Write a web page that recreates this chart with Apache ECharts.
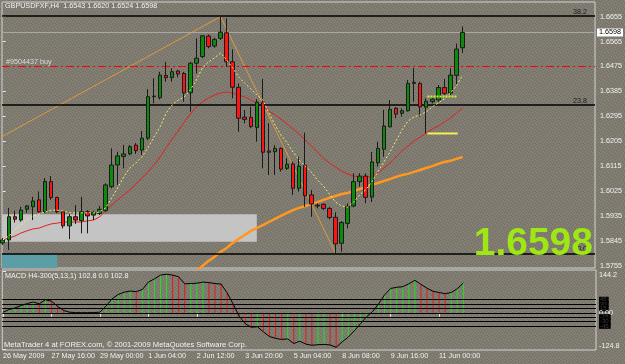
<!DOCTYPE html>
<html><head><meta charset="utf-8">
<script src="https://cdn.jsdelivr.net/npm/echarts@6/dist/echarts.min.js"></script>
<style>html,body{margin:0;padding:0;background:#7e7a6f;}#c{width:625px;height:364px;}</style>
</head><body><div id="c"></div>
<script>
// ---------------- DATA ----------------
const symbol = 'GBPUSDFXF,H4';
const opens = [1.5837,1.5848,1.5932,1.5920,1.5959,1.5968,1.5993,1.5950,1.6059,1.6002,
  1.5950,1.5899,1.5932,1.5918,1.5950,1.5938,1.5944,1.5954,1.6041,1.6119,
  1.6150,1.6159,1.6191,1.6173,1.6216,1.6366,1.6362,1.6443,1.6435,1.6459,
  1.6450,1.6380,1.6487,1.6511,1.6585,1.6549,1.6577,1.6597,1.6492,1.6400,
  1.6292,1.6291,1.6255,1.6346,1.6170,1.6167,1.6179,1.6107,1.6123,1.6035,
  1.6118,1.6011,1.5974,1.5977,1.5962,1.5930,1.5836,1.5908,1.5971,1.6059,
  1.6079,1.6003,1.6127,1.6176,1.6257,1.6324,1.6306,1.6315,1.6414,1.6414,
  1.6328,1.6348,1.6354,1.6399,1.6379,1.6443,1.6543];
const highs = [1.5855,1.5964,1.5954,1.5968,1.5974,1.6004,1.6023,1.6072,1.6079,1.6004,
  1.5956,1.5944,1.5974,1.6004,1.5956,1.5953,1.5971,1.6053,1.6179,1.6167,
  1.6191,1.6191,1.6198,1.6242,1.6393,1.6432,1.6456,1.6492,1.6469,1.6462,
  1.6456,1.6492,1.6577,1.6589,1.6591,1.6579,1.6655,1.6649,1.6537,1.6414,
  1.6318,1.6330,1.6357,1.6430,1.6270,1.6191,1.6183,1.6144,1.6131,1.6149,
  1.6236,1.6029,1.5980,1.5980,1.5968,1.5948,1.5916,1.5980,1.6089,1.6089,
  1.6089,1.6166,1.6203,1.6318,1.6354,1.6328,1.6324,1.6426,1.6469,1.6420,
  1.6360,1.6360,1.6408,1.6430,1.6469,1.6558,1.6620];
const lows = [1.5830,1.5812,1.5911,1.5914,1.5946,1.5920,1.5946,1.5946,1.5993,1.5945,
  1.5890,1.5851,1.5906,1.5872,1.5872,1.5920,1.5938,1.5950,1.6035,1.6047,
  1.6107,1.6155,1.6159,1.6155,1.6209,1.6342,1.6356,1.6420,1.6420,1.6436,
  1.6348,1.6312,1.6450,1.6505,1.6541,1.6543,1.6571,1.6474,1.6360,1.6239,
  1.6270,1.6252,1.6203,1.6107,1.6083,1.6083,1.6095,1.6101,1.6011,1.6023,
  1.5968,1.5932,1.5962,1.5956,1.5923,1.5800,1.5806,1.5890,1.5966,1.6041,
  1.5981,1.5985,1.6113,1.6149,1.6255,1.6288,1.6294,1.6312,1.6348,1.6294,
  1.6234,1.6342,1.6348,1.6372,1.6372,1.6410,1.6524];
const closes = [1.5848,1.5932,1.5923,1.5956,1.5971,1.5989,1.5950,1.6059,1.6001,1.5950,
  1.5899,1.5932,1.5920,1.5950,1.5935,1.5947,1.5959,1.6047,1.6119,1.6152,
  1.6159,1.6185,1.6171,1.6216,1.6366,1.6368,1.6444,1.6435,1.6456,1.6448,
  1.6380,1.6487,1.6505,1.6586,1.6547,1.6573,1.6599,1.6492,1.6400,1.6288,
  1.6284,1.6258,1.6346,1.6165,1.6165,1.6179,1.6104,1.6122,1.6035,1.6115,
  1.6008,1.5978,1.5971,1.5962,1.5929,1.5834,1.5911,1.5970,1.6059,1.6079,
  1.6002,1.6130,1.6179,1.6260,1.6320,1.6303,1.6315,1.6414,1.6418,1.6329,
  1.6350,1.6357,1.6399,1.6378,1.6444,1.6538,1.6598];

// fast MA (yellow dotted), read per bar
const maYellow = [1.5848,1.5862,1.5884,1.5902,1.5920,1.5935,1.5942,1.5949,1.5956,1.5956,
  1.5953,1.5946,1.5946,1.5946,1.5946,1.5946,1.5949,1.5964,1.6000,1.6036,
  1.6076,1.6108,1.6126,1.6148,1.6181,1.6220,1.6256,1.6307,1.6336,1.6354,
  1.6365,1.6390,1.6426,1.6470,1.6491,1.6506,1.6524,1.6499,1.6470,1.6437,
  1.6415,1.6394,1.6372,1.6354,1.6307,1.6264,1.6227,1.6199,1.6166,1.6137,
  1.6115,1.6094,1.6065,1.6043,1.6014,1.5985,1.5971,1.5967,1.5985,1.6011,
  1.6029,1.6058,1.6094,1.6130,1.6166,1.6206,1.6246,1.6278,1.6293,1.6300,
  1.6311,1.6329,1.6343,1.6358,1.6379,1.6405,1.6444];
// medium MA (red)
const maRed = [1.5848,1.5855,1.5862,1.5873,1.5881,1.5888,1.5891,1.5899,1.5906,1.5909,
  1.5913,1.5913,1.5913,1.5913,1.5917,1.5920,1.5931,1.5953,1.5974,1.5993,
  1.6011,1.6029,1.6050,1.6072,1.6094,1.6119,1.6148,1.6181,1.6213,1.6242,
  1.6274,1.6303,1.6329,1.6347,1.6361,1.6372,1.6379,1.6383,1.6379,1.6372,
  1.6365,1.6354,1.6343,1.6329,1.6314,1.6300,1.6285,1.6267,1.6249,1.6231,
  1.6209,1.6188,1.6166,1.6144,1.6126,1.6112,1.6097,1.6087,1.6079,1.6076,
  1.6076,1.6079,1.6090,1.6108,1.6126,1.6148,1.6170,1.6188,1.6206,1.6220,
  1.6235,1.6249,1.6260,1.6274,1.6289,1.6307,1.6325];
// slow MA (thick orange), first bar index 31
const maOrangeStart = 31;
const maOrange = [1.5714,1.5736,1.5754,1.5772,1.5787,1.5805,1.5819,1.5837,1.5852,1.5866,
  1.5881,1.5891,1.5902,1.5913,1.5924,1.5935,1.5946,1.5956,1.5964,1.5971,
  1.5978,1.5985,1.5993,1.6000,1.6007,1.6014,1.6018,1.6025,1.6032,1.6040,
  1.6047,1.6054,1.6061,1.6068,1.6076,1.6083,1.6087,1.6094,1.6101,1.6108,
  1.6115,1.6123,1.6130,1.6134,1.6141,1.6148];

// MACD H4-300 (5,13,1)
const macd = [2,11,17,25,32,37,31,45,40,23,
  8,2,0.6,0.4,0.5,0.8,2,23,48,63,
  71,75,73,80,106,117,130,133,130,124,
  100,101,102,106,104,101,99,69,30,-12,
  -38,-50,-48,-66,-82,-88,-92,-90,-106,-98,
  -108,-112,-110,-109,-111,-119,-100,-84,-62,-38,
  -14,4,30,62,84,88,90,100,112,98,
  85,74,70,66,70,83,102.8];
const macdLevels = [45,30,15,0,-15,-30,-45];
const macdMax = 144.2, macdMin = -124.8;

// tick labels
const timeLabels = ['26 May 2009','27 May 16:00','29 May 00:00','1 Jun 04:00','2 Jun 12:00',
  '3 Jun 20:00','5 Jun 04:00','8 Jun 08:00','9 Jun 16:00','11 Jun 00:00'];
const timeLabelBars = [0,8,16,24,32,40,48,56,64,72];
const priceTicks = [1.6655,1.6565,1.6475,1.6385,1.6295,1.6205,1.6115,1.6025,1.5935,1.5845,1.5755];

// drawn objects (bar index, price)
const trendUp = [[-0.5,1.6217],[36,1.6655]];
const trendDown = [[36,1.6655],[55,1.5800]];
const fibLevels = [{v:1.6657,t:'38.2'},{v:1.6335,t:'23.8'},{v:1.5800,t:'0.0'}];
const orderLine = {v:1.6475, t:'#9504437 buy'};
const limeSeg = [[70.2,1.6367],[75.1,1.6367]];
const yellowSeg = [[70.2,1.6233],[75.2,1.6233]];
const grayBox = {x0:-1, x1:42, top:1.5941, bottom:1.5842};
const tealBox = {x0:-1, x1:9, top:1.5797, bottom:1.5700};

// ---------------- CHART ----------------
const FONT = "'Liberation Sans',Arial,sans-serif";
const FS = 7.2;
const TXT = '#f2f2f2';
const XMIN = -0.12, XMAX = 97.9;
const N = closes.length;
const last = N - 1;
const candleData = closes.map((c,i)=>[i, opens[i], c, lows[i], highs[i]]);
const idx = a => a.map((v,i)=>[i,v]);
const orangeData = maOrange.map((v,k)=>[k+maOrangeStart, v]);
const histData = macd.map((v,i)=>({value:[i,v], itemStyle:{color: (i===0 || v>=macd[i-1]) ? '#19e619' : '#e61919'}}));
const macdAxisValues = [macdMax].concat(macdLevels, [macdMin]);

// speckled background texture (fixed pattern)
function makeTexture(){
  const c = document.createElement('canvas'); c.width = 6; c.height = 6;
  const g = c.getContext('2d');
  g.fillStyle = '#7e7a6f'; g.fillRect(0,0,6,6);
  const light = [[0,0],[3,1],[1,3],[4,4],[5,2],[2,5]];
  const dark = [[2,0],[5,1],[0,2],[3,3],[1,5],[4,5]];
  g.fillStyle = '#8a877e'; light.forEach(p=>g.fillRect(p[0],p[1],1,1));
  g.fillStyle = '#747066'; dark.forEach(p=>g.fillRect(p[0],p[1],1,1));
  return c;
}

const chart = echarts.init(document.getElementById('c'), null, {renderer:'canvas'});
chart.setOption({
  animation:false,
  backgroundColor:{image:makeTexture(), repeat:'repeat'},
  textStyle:{fontFamily:FONT},
  grid:[
    {left:2, top:2, width:594, height:266, show:true, borderColor:'#d2d2d2', borderWidth:1, backgroundColor:'transparent'},
    {left:2, top:270, width:594, height:80, show:true, borderColor:'#d2d2d2', borderWidth:1, backgroundColor:'transparent'}
  ],
  xAxis:[
    {type:'value', gridIndex:0, min:XMIN, max:XMAX, show:false},
    {type:'value', gridIndex:1, min:XMIN, max:XMAX,
      axisLine:{show:false}, splitLine:{show:false},
      axisTick:{show:true, customValues:timeLabelBars, length:4, lineStyle:{color:'#e8e8e8'}},
      axisLabel:{customValues:timeLabelBars, showMinLabel:true, hideOverlap:false, align:'left', margin:3, color:TXT, fontSize:FS, fontFamily:FONT,
        formatter:v=>{const k=timeLabelBars.indexOf(Math.round(v)); return k>=0?timeLabels[k]:'';}}}
  ],
  yAxis:[
    {type:'value', gridIndex:0, position:'right', min:1.57467, max:1.67082, scale:true,
      splitLine:{show:false}, axisLine:{show:false},
      axisTick:{show:true, customValues:priceTicks, length:3, lineStyle:{color:'#e8e8e8'}},
      axisLabel:{customValues:priceTicks, margin:5, color:TXT, fontSize:FS, fontFamily:FONT, formatter:v=>v.toFixed(4)}},
    {type:'value', gridIndex:1, position:'right', min:-128.3, max:147.6,
      splitLine:{show:false}, axisLine:{show:false},
      axisTick:{show:true, customValues:[macdMax,0,macdMin], length:3, lineStyle:{color:'#e8e8e8'}},
      axisLabel:{customValues:macdAxisValues, margin:3, color:TXT, fontSize:FS, fontFamily:FONT,
        formatter:v=>{
          if (v===macdMax) return '{t|'+v.toFixed(1)+'}';
          if (v===macdMin) return '{b|'+v.toFixed(1)+'}';
          if (v===0) return '{z|0.00}';
          return '{lv|'+v+'}';
        },
        rich:{
          t:{padding:[8,0,0,0], color:TXT, fontSize:FS, fontFamily:FONT},
          b:{padding:[0,0,6,0], color:TXT, fontSize:FS, fontFamily:FONT},
          z:{color:TXT, fontSize:FS, fontFamily:FONT},
          lv:{backgroundColor:'#000', color:'#3c3c3c', fontSize:6, padding:[0,2,0,1], fontFamily:FONT}
        }}}
  ],
  graphic:[
    {type:'text', left:5, top:3, z:100, style:{text: symbol+'  '+opens[last].toFixed(4)+' '+highs[last].toFixed(4)+' '+lows[last].toFixed(4)+' '+closes[last].toFixed(4), fill:TXT, font:FS+'px '+FONT}},
    {type:'text', left:5, top:273, z:100, style:{text:'MACD H4-300(5,13,1) '+macd[last].toFixed(1)+' 0.0 '+macd[last].toFixed(1), fill:TXT, font:FS+'px '+FONT}},
    {type:'text', left:4, top:341, z:100, style:{text:'MetaTrader 4 at FOREX.com, \u00a9 2001-2009 MetaQuotes Software Corp.', fill:TXT, font:'7.6px '+FONT}},
    {type:'text', right:32, top:225, z:100, style:{text:closes[last].toFixed(4), fill:'#9ee614', font:'bold 39px "Liberation Sans",Arial,sans-serif'}}
  ],
  series:[
    {type:'line', xAxisIndex:0, yAxisIndex:0, data:[], z:1, silent:true,
      markArea:{silent:true, data:[
        [{xAxis:grayBox.x0, yAxis:grayBox.top, itemStyle:{color:'#c4c4c4'}},{xAxis:grayBox.x1, yAxis:grayBox.bottom}],
        [{xAxis:tealBox.x0, yAxis:tealBox.top, itemStyle:{color:'#5b9ea6'}},{xAxis:tealBox.x1, yAxis:tealBox.bottom}]
      ]}},
    {type:'line', xAxisIndex:0, yAxisIndex:0, data:[], z:2, silent:true,
      markLine:{silent:true, precision:4, symbol:['none','none'], animation:false, data:[
        {yAxis:fibLevels[0].v, lineStyle:{color:'#000', width:1.5, type:'solid'}, label:{show:true, position:'insideEndTop', formatter:fibLevels[0].t, color:'#1a1a1a', fontSize:FS, fontFamily:FONT, distance:[8,1]}},
        {yAxis:fibLevels[1].v, lineStyle:{color:'#000', width:1.5, type:'solid'}, label:{show:true, position:'insideEndTop', formatter:fibLevels[1].t, color:'#1a1a1a', fontSize:FS, fontFamily:FONT, distance:[8,1]}},
        {yAxis:fibLevels[2].v, lineStyle:{color:'#000', width:1.5, type:'solid'}, label:{show:true, position:'insideEndTop', formatter:fibLevels[2].t, color:'#1a1a1a', fontSize:FS, fontFamily:FONT, distance:[8,1]}},
        {yAxis:orderLine.v, lineStyle:{color:'#ff0000', width:1, type:[8,3,2,3]}, label:{show:true, position:'insideStartTop', formatter:orderLine.t, color:'#dcdcdc', fontSize:FS, fontFamily:FONT, distance:[4,1]}},
        {yAxis:closes[last], lineStyle:{color:'#a8a8a8', width:1, type:'solid'}, label:{show:true, position:'end', formatter:closes[last].toFixed(4), color:'#000', backgroundColor:'#fff', padding:[1,2,0,2], fontSize:FS, fontFamily:FONT, distance:2}}
      ]}},
    {type:'line', name:'trendUp', xAxisIndex:0, yAxisIndex:0, data:trendUp, symbol:'none', z:3, lineStyle:{color:'#dc9a3a', width:1}},
    {type:'line', name:'trendDown', xAxisIndex:0, yAxisIndex:0, data:trendDown, symbol:'none', z:3, lineStyle:{color:'#dc9a3a', width:1}},
    {type:'line', name:'maOrange', xAxisIndex:0, yAxisIndex:0, data:orangeData, symbol:'none', z:4, lineStyle:{color:'#ff981e', width:2.5}},
    {type:'line', name:'maRed', xAxisIndex:0, yAxisIndex:0, data:idx(maRed), symbol:'none', z:4, lineStyle:{color:'#e4201e', width:1}},
    {type:'candlestick', xAxisIndex:0, yAxisIndex:0, data:candleData, encode:{x:0, y:[1,2,3,4]}, barWidth:4, z:5,
      itemStyle:{color:'#0c8a0c', color0:'#ff1414', borderColor:'#1a1a1a', borderColor0:'#1a1a1a', borderWidth:1}},
    {type:'line', name:'maYellow', xAxisIndex:0, yAxisIndex:0, data:idx(maYellow), symbol:'none', z:6, lineStyle:{color:'#f2f06a', width:1, type:[2,2]}},
    {type:'line', name:'lime', xAxisIndex:0, yAxisIndex:0, data:limeSeg, symbol:'none', z:6, lineStyle:{color:'#c6f52a', width:2, type:[2,1]}},
    {type:'line', name:'yel', xAxisIndex:0, yAxisIndex:0, data:yellowSeg, symbol:'none', z:6, lineStyle:{color:'#f6f050', width:2}},
    {type:'bar', xAxisIndex:1, yAxisIndex:1, data:histData, barWidth:1, z:3},
    {type:'line', xAxisIndex:1, yAxisIndex:1, data:idx(macd), symbol:'none', z:4, lineStyle:{color:'#000', width:1},
      markLine:{silent:true, symbol:['none','none'], label:{show:false},
        data:macdLevels.map(v=>({yAxis:v, lineStyle:{color:'#000', width:1, type:'solid'}}))}}
  ]
});
</script></body></html>
